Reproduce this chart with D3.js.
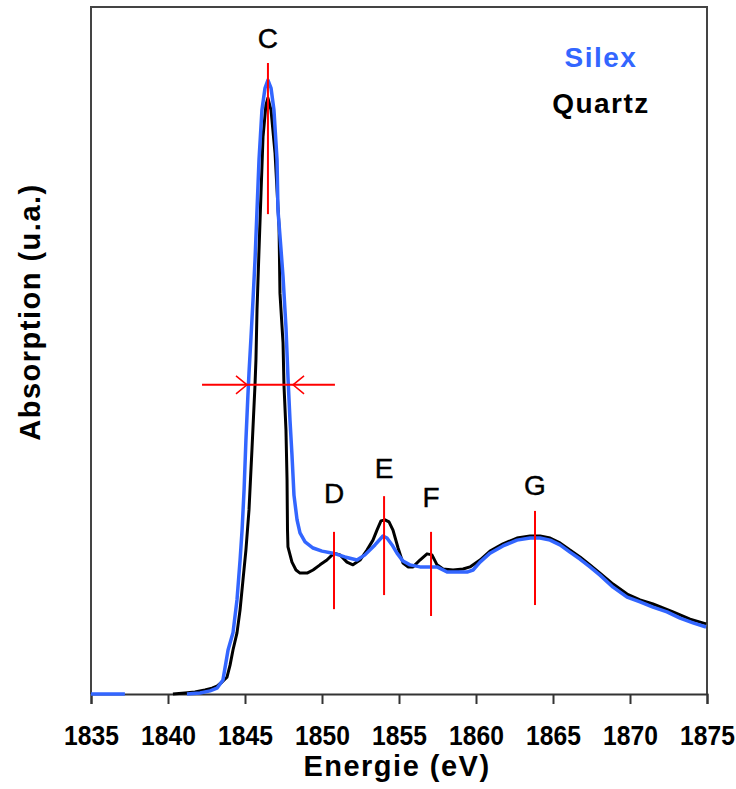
<!DOCTYPE html>
<html>
<head>
<meta charset="utf-8">
<script src="https://cdn.jsdelivr.net/npm/d3@7"></script>
<style>
  html, body { margin: 0; padding: 0; background: #fff; }
  svg { display: block; font-family: "Liberation Sans", Arial, sans-serif; }
</style>
</head>
<body>
<svg id="chart" width="736" height="789"></svg>
<script>
// ---- Data ----
const xTicks = [1835, 1840, 1845, 1850, 1855, 1860, 1865, 1870, 1875];

// Silex (blue) : energy (eV) / absorption (a.u.); null = gap in data
const silexEnergy = [1835, 1837.2, null,
  1841.23, 1842.08, 1842.73, 1843.18, 1843.57, 1843.90, 1844.22, 1844.48, 1844.68, 1844.81,
  1844.94, 1845.06, 1845.19, 1845.26, 1845.39, 1845.52, 1845.65, 1845.78, 1845.91, 1846.10,
  1846.30, 1846.49, 1846.69, 1846.88, 1847.08, 1847.14, 1847.34, 1847.47, 1847.66, 1847.79,
  1847.92, 1848.05, 1848.18, 1848.38, 1848.57, 1848.90, 1849.42, 1850.00, 1850.71, 1851.49,
  1852.27, 1852.79, 1853.44, 1853.96, 1854.22, 1854.55, 1854.87, 1855.26, 1855.71, 1856.36,
  1857.47, 1858.12, 1858.77, 1859.42, 1859.81, 1860.26, 1860.91, 1861.75, 1862.66, 1863.51,
  1864.16, 1864.81, 1865.45, 1866.10, 1866.75, 1867.40, 1868.05, 1868.90, 1869.81, 1870.65,
  1871.49, 1872.40, 1873.25, 1874.09, 1874.94];
const silexAbs = [0, 0, null,
  0, 0.003, 0.009, 0.017, 0.041, 0.128, 0.178, 0.274, 0.390, 0.477,
  0.594, 0.739, 0.870, 0.935, 1.039, 1.147, 1.263, 1.409, 1.555, 1.700,
  1.764, 1.787, 1.764, 1.700, 1.555, 1.409, 1.293, 1.214, 1.068, 0.923,
  0.798, 0.696, 0.579, 0.507, 0.469, 0.443, 0.425, 0.416, 0.410, 0.399,
  0.390, 0.405, 0.434, 0.460, 0.454, 0.434, 0.410, 0.387, 0.376, 0.370,
  0.370, 0.355, 0.355, 0.355, 0.361, 0.384, 0.410, 0.431, 0.448, 0.454,
  0.454, 0.448, 0.434, 0.413, 0.393, 0.370, 0.346, 0.311, 0.282, 0.268,
  0.253, 0.239, 0.221, 0.207, 0.195];

// Quartz (black)
const quartzEnergy = [1840.32, 1841.10, 1841.75, 1842.40, 1842.86, 1843.18, 1843.51, 1843.83,
  1844.03, 1844.22, 1844.48, 1844.68, 1844.87, 1845.06, 1845.26, 1845.45, 1845.65, 1845.71,
  1845.78, 1845.91, 1846.04, 1846.17, 1846.36, 1846.49, 1846.69, 1846.95, 1847.21, 1847.27,
  1847.47, 1847.53, 1847.66, 1847.73, 1847.76, 1847.79, 1848.05, 1848.31, 1848.57, 1849.03,
  1849.42, 1849.87, 1850.32, 1850.78, 1851.17, 1851.62, 1852.01, 1852.47, 1852.92, 1853.31,
  1853.57, 1853.83, 1854.09, 1854.35, 1854.61, 1854.94, 1855.26, 1855.58, 1855.91, 1856.36,
  1856.82, 1857.14, 1857.47, 1857.86, 1858.51, 1859.16, 1859.61, 1860.26, 1860.91, 1861.75,
  1862.66, 1863.51, 1864.16, 1864.81, 1865.45, 1866.10, 1866.75, 1867.40, 1868.05, 1868.90,
  1869.81, 1870.65, 1871.49, 1872.79, 1873.90, 1874.94];
const quartzAbs = [0, 0.003, 0.006, 0.012, 0.017, 0.023, 0.035, 0.049,
  0.084, 0.128, 0.178, 0.245, 0.332, 0.419, 0.536, 0.710, 0.900, 0.972,
  1.118, 1.293, 1.459, 1.622, 1.715, 1.735, 1.700, 1.575, 1.360, 1.167,
  1.022, 0.900, 0.769, 0.623, 0.477, 0.428, 0.384, 0.361, 0.352, 0.352,
  0.361, 0.376, 0.390, 0.410, 0.405, 0.384, 0.376, 0.390, 0.419, 0.448,
  0.477, 0.504, 0.507, 0.501, 0.477, 0.425, 0.381, 0.370, 0.370, 0.390,
  0.408, 0.405, 0.376, 0.364, 0.361, 0.364, 0.370, 0.390, 0.416, 0.437,
  0.454, 0.460, 0.460, 0.454, 0.440, 0.419, 0.399, 0.376, 0.352, 0.320,
  0.291, 0.274, 0.262, 0.239, 0.218, 0.204];

// Peak markers (red vertical lines) and their labels
const peakNames  = ["C", "D", "E", "F", "G"];
const peakEnergy = [1846.49, 1850.78, 1854.03, 1857.08, 1863.83];
const peakTop    = [1.837, 0.472, 0.576, 0.472, 0.533];
const peakBottom = [1.397, 0.247, 0.288, 0.227, 0.259];
const labelAbs   = [1.881, 0.556, 0.629, 0.544, 0.579];

// FWHM marker
const fwhmAbs = 0.900;
const fwhmLineEnergy = [1842.21, 1850.84];
const fwhmTipEnergy  = [1845.13, 1848.12];

const legendNames  = ["Silex", "Quartz"];
const legendColors = ["#3366ff", "#000000"];

// ---- Drawing ----
(function () {
const svg = d3.select("#chart");
const pL = 91, pR = 707, pT = 7, pB = 694;

const x = d3.scaleLinear().domain([1835, 1875]).range([pL, pR]);
const y = d3.scaleLinear().domain([0, 2]).range([pB, pT]);

// frame (left, top, right)
svg.append("path")
  .attr("d", `M${pL},${pB}V${pT}H${pR}V${pB}`)
  .attr("fill", "none").attr("stroke", "#444").attr("stroke-width", 2);

// bottom axis
const xAxis = d3.axisBottom(x).tickValues(xTicks).tickSize(10).tickFormat(d3.format("d"));
const gx = svg.append("g").attr("transform", `translate(0,${pB})`).call(xAxis);
gx.select(".domain").attr("stroke", "#333").attr("stroke-width", 2);
gx.selectAll(".tick line").attr("stroke", "#333").attr("stroke-width", 2);
gx.selectAll(".tick text")
  .attr("y", 31).attr("dy", "0.71em")
  .attr("font-size", 28).attr("font-weight", "bold")
  .attr("transform", "scale(0.88,1)")
  .attr("font-family", "'Liberation Sans', Arial, sans-serif")
  .attr("fill", "#000");

// axis titles
svg.append("text")
  .attr("x", 397).attr("y", 776)
  .attr("text-anchor", "middle")
  .attr("font-size", 29).attr("font-weight", "bold").attr("letter-spacing", 1.5)
  .text("Energie (eV)");
svg.append("text")
  .attr("transform", "translate(40,312) rotate(-90)")
  .attr("text-anchor", "middle")
  .attr("font-size", 29).attr("font-weight", "bold").attr("letter-spacing", 1.5)
  .text("Absorption (u.a.)");

// curves
const toPts = (es, as) => es.map((e, i) => [e, as[i]]);
const line = d3.line()
  .defined(d => d[0] !== null && d[1] !== null)
  .x(d => x(d[0])).y(d => y(d[1]));

svg.append("path")
  .datum(toPts(quartzEnergy, quartzAbs))
  .attr("d", line).attr("fill", "none")
  .attr("stroke", "#000").attr("stroke-width", 3).attr("stroke-linejoin", "round");

svg.append("path")
  .datum(toPts(silexEnergy, silexAbs))
  .attr("d", line).attr("fill", "none")
  .attr("stroke", "#3366ff").attr("stroke-width", 3.5).attr("stroke-linejoin", "round");

// peak markers
const red = "#ff0000";
peakNames.forEach((n, i) => {
  svg.append("line")
    .attr("x1", x(peakEnergy[i])).attr("x2", x(peakEnergy[i]))
    .attr("y1", y(peakTop[i])).attr("y2", y(peakBottom[i]))
    .attr("stroke", red).attr("stroke-width", 2);
  svg.append("text")
    .attr("x", x(peakEnergy[i])).attr("y", y(labelAbs[i]))
    .attr("text-anchor", "middle")
    .attr("font-size", 28).attr("fill", "#000")
    .attr("stroke", "#000").attr("stroke-width", 0.4)
    .text(n);
});

// FWHM line with arrows
const fy = y(fwhmAbs);
svg.append("line")
  .attr("x1", x(fwhmLineEnergy[0])).attr("x2", x(fwhmLineEnergy[1]))
  .attr("y1", fy).attr("y2", fy)
  .attr("stroke", red).attr("stroke-width", 2);
[[fwhmTipEnergy[0], -1], [fwhmTipEnergy[1], 1]].forEach(([e, s]) => {
  const tx = x(e);
  svg.append("path")
    .attr("d", `M${tx + s * 11},${fy - 9}L${tx},${fy}L${tx + s * 11},${fy + 9}`)
    .attr("fill", "none").attr("stroke", red).attr("stroke-width", 1.5);
});

// legend
legendNames.forEach((n, i) => {
  svg.append("text")
    .attr("x", 601).attr("y", 67 + i * 46)
    .attr("text-anchor", "middle")
    .attr("font-size", 28).attr("font-weight", "bold").attr("letter-spacing", 1.5)
    .attr("fill", legendColors[i])
    .text(n);
});
})();
</script>
</body>
</html>
